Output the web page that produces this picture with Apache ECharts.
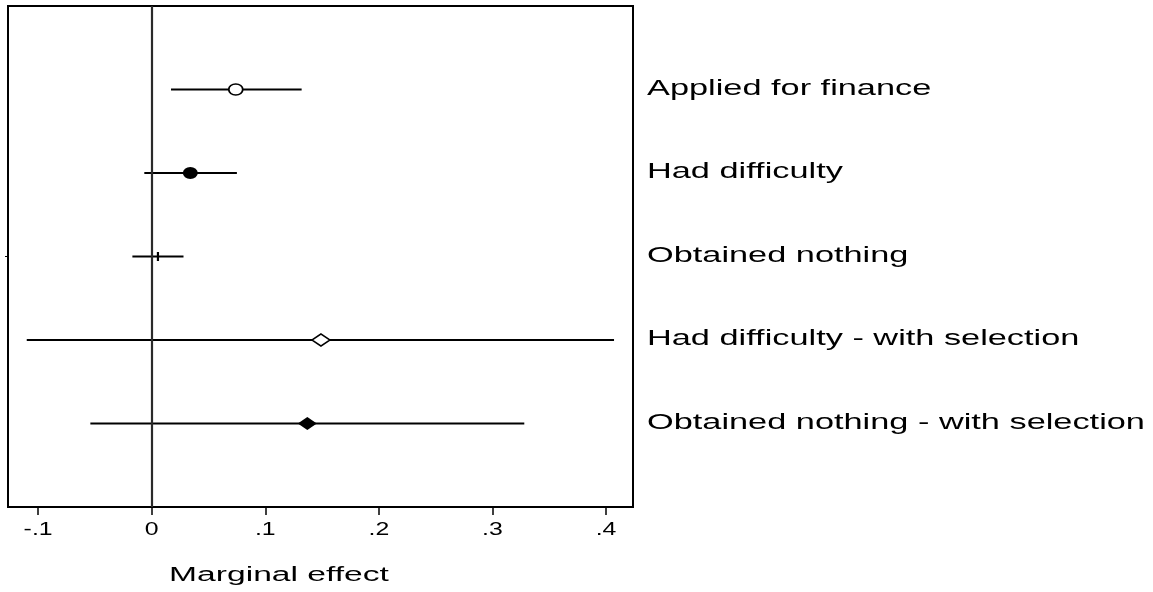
<!DOCTYPE html>
<html>
<head>
<meta charset="utf-8">
<script src="https://cdn.jsdelivr.net/npm/echarts@6/dist/echarts.min.js"></script>
<style>
html,body{margin:0;padding:0;background:#fff;}
#chart{width:1153px;height:592px;}
</style>
</head>
<body>
<div id="chart"></div>
<script>
// ---- data ----
var categories = ['Applied for finance', 'Had difficulty', 'Obtained nothing', 'Had difficulty - with selection', 'Obtained nothing - with selection'];
var estimates = [0.074, 0.034, 0.0055, 0.149, 0.137];
var lower = [0.017, -0.0065, -0.017, -0.110, -0.054];
var upper = [0.132, 0.075, 0.028, 0.407, 0.328];
var tickValues = [-0.1, 0, 0.1, 0.2, 0.3, 0.4];
var tickLabels = ['-.1', '0', '.1', '.2', '.3', '.4'];
var axisTitle = 'Marginal effect';

// ---- marker styles (per row) ----
var markerStyles = [
  {symbol: 'circle', size: [14, 11], fill: '#fff', border: 1.6},
  {symbol: 'circle', size: [15, 12], fill: '#000', border: 0},
  {symbol: 'rect', size: [2.2, 9], fill: '#000', border: 0},
  {symbol: 'diamond', size: [18, 12], fill: '#fff', border: 1.6},
  {symbol: 'diamond', size: [19, 13], fill: '#000', border: 0}
];

var chart = echarts.init(document.getElementById('chart'));
var FONT = '"Liberation Sans", Arial, Helvetica, sans-serif';

var ciData = categories.map(function (c, i) { return [i + 1, lower[i], upper[i]]; });
var pointData = categories.map(function (c, i) {
  var s = markerStyles[i];
  return {
    value: [estimates[i], i + 1],
    symbol: s.symbol,
    symbolSize: s.size,
    itemStyle: {color: s.fill, borderColor: '#000', borderWidth: s.border, opacity: 1}
  };
});

chart.setOption({
  animation: false,
  backgroundColor: '#fff',
  grid: {left: 8, right: 520, top: 6, bottom: 85, show: true, borderColor: '#000', borderWidth: 2, backgroundColor: 'transparent'},
  xAxis: {
    type: 'value',
    min: -0.1265,
    max: 0.4237,
    axisLine: {show: true, onZero: false, lineStyle: {color: '#000', width: 2}},
    axisTick: {show: true, length: 8, customValues: tickValues, lineStyle: {color: '#000', width: 1.5}},
    axisLabel: {show: false},
    splitLine: {show: false}
  },
  yAxis: {
    type: 'value',
    min: 0,
    max: 6,
    inverse: true,
    axisLine: {show: true, onZero: false, lineStyle: {color: '#000', width: 2}},
    axisTick: {show: true, length: 3, customValues: [3], lineStyle: {color: '#000', width: 1}},
    axisLabel: {show: false},
    splitLine: {show: false}
  },
  series: [
    {
      type: 'custom',
      data: ciData,
      encode: {x: [1, 2], y: 0},
      z: 3,
      renderItem: function (params, api) {
        var y = api.value(0), lo = api.value(1), hi = api.value(2);
        var p1 = api.coord([lo, y]), p2 = api.coord([hi, y]);
        return {
          type: 'line',
          shape: {x1: p1[0], y1: p1[1], x2: p2[0], y2: p2[1]},
          style: {stroke: '#000', lineWidth: 1.8}
        };
      },
      markLine: {
        silent: true,
        symbol: 'none',
        label: {show: false},
        lineStyle: {color: '#2a2a2a', width: 2.2, type: 'solid', opacity: 1},
        data: [{xAxis: 0}]
      }
    },
    {
      type: 'scatter',
      data: pointData,
      itemStyle: {opacity: 1},
      z: 5
    }
  ]
});

// Text placed through the chart's own scales (stretched horizontally like the reference)
var graphics = categories.map(function (c, i) {
  var py = chart.convertToPixel({gridIndex: 0}, [0, i + 1])[1];
  return {
    type: 'text',
    x: 647,
    y: py - 1,
    scaleX: 1.56,
    style: {text: c, font: '22px ' + FONT, fill: '#000', textAlign: 'left', textVerticalAlign: 'middle'}
  };
});
var axisBottom = chart.convertToPixel({gridIndex: 0}, [0, 6])[1];
tickValues.forEach(function (v, k) {
  var px = chart.convertToPixel({gridIndex: 0}, [v, 6])[0];
  graphics.push({
    type: 'text',
    x: px,
    y: axisBottom + 23,
    scaleX: 1.38,
    style: {text: tickLabels[k], font: '18px ' + FONT, fill: '#000', textAlign: 'center', textVerticalAlign: 'middle'}
  });
});
graphics.push({
  type: 'text',
  x: 279,
  y: 575,
  scaleX: 1.68,
  style: {text: axisTitle, font: '20px ' + FONT, fill: '#000', textAlign: 'center', textVerticalAlign: 'middle'}
});
chart.setOption({graphic: graphics});
</script>
</body>
</html>
